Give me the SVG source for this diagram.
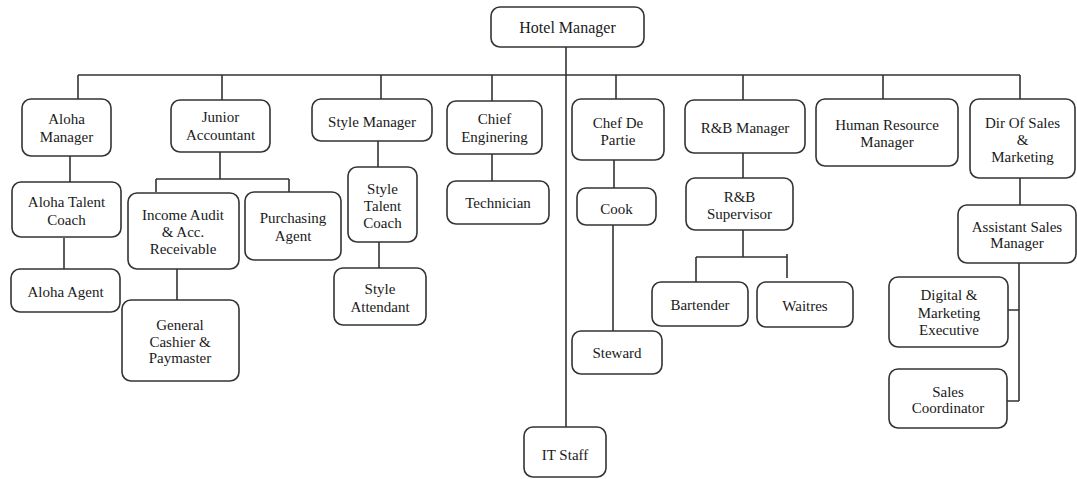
<svg xmlns="http://www.w3.org/2000/svg" width="1077" height="479" viewBox="0 0 1077 479">
<style>
.b{fill:#fff;stroke:#333;stroke-width:1.6}
.t{font-family:"Liberation Serif","Times New Roman",serif;font-size:15px;fill:#1a1a1a;text-anchor:middle}
.c{fill:none;stroke:#333;stroke-width:1.6}
</style>
<rect width="1077" height="479" fill="#fff"/>
<g id="connectors" class="c">
<path d="M78 75H1020M566 47V427M78 75V99M222 75V100M381 75V99M492 75V101M616 75V99M743 75V100M883 75V99M1020 75V99"/>
<path d="M70 156V182M64 238V269"/>
<path d="M220 152V179M156 179H289M156 179V192M289 179V192M177 269V300"/>
<path d="M378 141V167M379 242V268"/>
<path d="M492 154V181"/>
<path d="M614 160V188M613 225V331"/>
<path d="M743 153V178M743 230V257M696 257H787M696 257V282M787 254V278"/>
<path d="M1020 178V205M1019 263V401M1008 310H1019M1007 401H1019"/>
</g>
<g id="hotel-manager"><rect class="b" x="491" y="7" width="153" height="40" rx="9"/><text class="t" x="567.5" y="33" style="font-size:16px">Hotel Manager</text></g>
<g id="aloha-manager"><rect class="b" x="22" y="99" width="89" height="57" rx="9"/><text class="t" x="66.5" y="124">Aloha</text><text class="t" x="66.5" y="142">Manager</text></g>
<g id="junior-accountant"><rect class="b" x="171" y="100" width="99" height="52" rx="9"/><text class="t" x="220.5" y="122">Junior</text><text class="t" x="220.5" y="140">Accountant</text></g>
<g id="style-manager"><rect class="b" x="312" y="99" width="120" height="42" rx="9"/><text class="t" x="372" y="127">Style Manager</text></g>
<g id="chief-enginering"><rect class="b" x="447" y="101" width="95" height="53" rx="9"/><text class="t" x="494.5" y="124">Chief</text><text class="t" x="494.5" y="142">Enginering</text></g>
<g id="chef-de-partie"><rect class="b" x="572" y="99" width="92" height="61" rx="9"/><text class="t" x="618" y="128">Chef De</text><text class="t" x="618" y="145">Partie</text></g>
<g id="rb-manager"><rect class="b" x="685" y="100" width="120" height="53" rx="9"/><text class="t" x="745" y="133">R&amp;B Manager</text></g>
<g id="hr-manager"><rect class="b" x="816" y="99" width="142" height="67" rx="9"/><text class="t" x="887" y="130">Human Resource</text><text class="t" x="887" y="147">Manager</text></g>
<g id="dir-sales"><rect class="b" x="970" y="99" width="105" height="79" rx="9"/><text class="t" x="1022.5" y="128">Dir Of Sales</text><text class="t" x="1022.5" y="145">&amp;</text><text class="t" x="1022.5" y="162">Marketing</text></g>
<g id="aloha-talent-coach"><rect class="b" x="12" y="182" width="109" height="55" rx="9"/><text class="t" x="66.5" y="207">Aloha Talent</text><text class="t" x="66.5" y="225">Coach</text></g>
<g id="aloha-agent"><rect class="b" x="11" y="269" width="109" height="43" rx="9"/><text class="t" x="65.5" y="297">Aloha Agent</text></g>
<g id="income-audit"><rect class="b" x="128" y="193" width="111" height="76" rx="9"/><text class="t" x="183" y="220">Income Audit</text><text class="t" x="183" y="237">&amp; Acc.</text><text class="t" x="183" y="254">Receivable</text></g>
<g id="purchasing-agent"><rect class="b" x="245" y="192" width="96" height="68" rx="9"/><text class="t" x="293" y="223">Purchasing</text><text class="t" x="293" y="241">Agent</text></g>
<g id="general-cashier"><rect class="b" x="122" y="300" width="117" height="81" rx="9"/><text class="t" x="180" y="330">General</text><text class="t" x="180" y="347">Cashier &amp;</text><text class="t" x="180" y="363">Paymaster</text></g>
<g id="style-talent-coach"><rect class="b" x="348" y="167" width="69" height="75" rx="9"/><text class="t" x="382.5" y="194">Style</text><text class="t" x="382.5" y="211">Talent</text><text class="t" x="382.5" y="228">Coach</text></g>
<g id="style-attendant"><rect class="b" x="334" y="268" width="92" height="57" rx="9"/><text class="t" x="380" y="294">Style</text><text class="t" x="380" y="312">Attendant</text></g>
<g id="technician"><rect class="b" x="447" y="181" width="102" height="43" rx="9"/><text class="t" x="498" y="208">Technician</text></g>
<g id="cook"><rect class="b" x="577" y="188" width="79" height="37" rx="9"/><text class="t" x="616.5" y="214">Cook</text></g>
<g id="steward"><rect class="b" x="572" y="331" width="90" height="43" rx="9"/><text class="t" x="617" y="358">Steward</text></g>
<g id="it-staff"><rect class="b" x="524" y="427" width="82" height="50" rx="9"/><text class="t" x="565" y="460">IT Staff</text></g>
<g id="rb-supervisor"><rect class="b" x="686" y="178" width="107" height="52" rx="9"/><text class="t" x="739.5" y="202">R&amp;B</text><text class="t" x="739.5" y="219">Supervisor</text></g>
<g id="bartender"><rect class="b" x="652" y="282" width="96" height="44" rx="9"/><text class="t" x="700" y="310">Bartender</text></g>
<g id="waitres"><rect class="b" x="757" y="282" width="96" height="45" rx="9"/><text class="t" x="805" y="311">Waitres</text></g>
<g id="assistant-sales-manager"><rect class="b" x="958" y="205" width="118" height="58" rx="9"/><text class="t" x="1017" y="232">Assistant Sales</text><text class="t" x="1017" y="248">Manager</text></g>
<g id="digital-marketing"><rect class="b" x="889" y="277" width="119" height="70" rx="9"/><text class="t" x="949" y="300">Digital &amp;</text><text class="t" x="949" y="318">Marketing</text><text class="t" x="949" y="335">Executive</text></g>
<g id="sales-coordinator"><rect class="b" x="889" y="369" width="118" height="59" rx="9"/><text class="t" x="948" y="397">Sales</text><text class="t" x="948" y="413">Coordinator</text></g>
</svg>
